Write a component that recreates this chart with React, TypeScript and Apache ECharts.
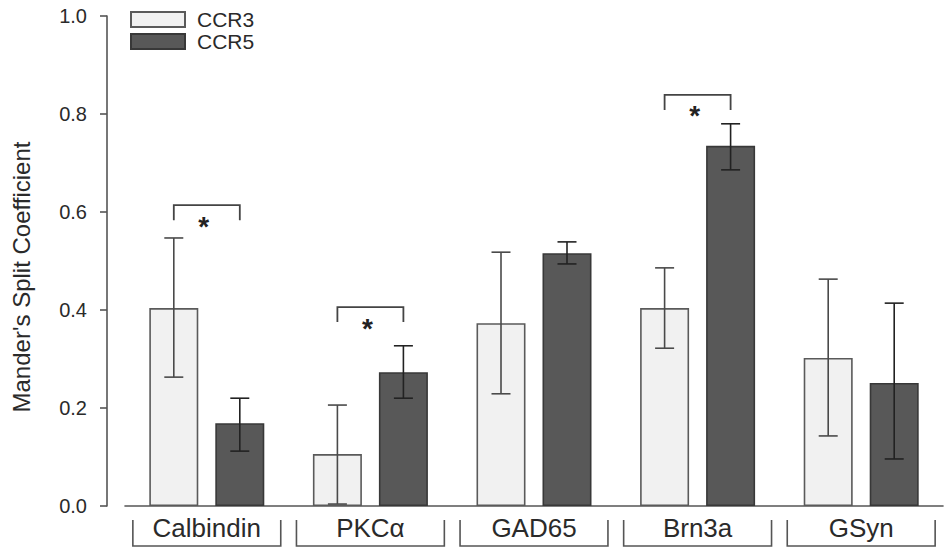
import React, { useEffect, useRef } from "react";
import * as echarts from "echarts";

const categories = ["Calbindin", "PKCα", "GAD65", "Brn3a", "GSyn"];
const seriesNames = ["CCR3", "CCR5"];
const ccr3Mean = [0.404, 0.106, 0.373, 0.404, 0.302];
const ccr3Low = [0.263, 0.004, 0.229, 0.322, 0.143];
const ccr3High = [0.547, 0.206, 0.518, 0.486, 0.463];
const ccr5Mean = [0.169, 0.273, 0.516, 0.735, 0.251];
const ccr5Low = [0.112, 0.22, 0.494, 0.686, 0.096];
const ccr5High = [0.22, 0.327, 0.539, 0.78, 0.414];
const sigCategories = [0, 1, 3];
const sigLevels = [0.614, 0.406, 0.839];
const yTickMin = 0;
const yTickMax = 1;
const yTickStep = 0.2;
const yTitle = "Mander's Split Coefficient";

const BAR_W = 49;
const BAR_GAP = 17;
const OFFSET = (BAR_W + BAR_GAP) / 2;
const FONT = "'Liberation Sans', Arial, Helvetica, sans-serif";

function errRender(offset: number, color: string) {
  return (params: any, api: any) => {
    const idx = api.value(0);
    const lo = api.coord([idx, api.value(1)]);
    const hi = api.coord([idx, api.value(2)]);
    const x = lo[0] + offset;
    const cap = 9.5;
    const style = { stroke: color, lineWidth: 1.6 };
    return {
      type: "group",
      children: [
        { type: "line", shape: { x1: x, y1: lo[1], x2: x, y2: hi[1] }, style },
        { type: "line", shape: { x1: x - cap, y1: hi[1], x2: x + cap, y2: hi[1] }, style },
        { type: "line", shape: { x1: x - cap, y1: lo[1], x2: x + cap, y2: lo[1] }, style },
      ],
    };
  };
}

export default function App() {
  const ref = useRef<HTMLDivElement>(null);
  useEffect(() => {
    document.body.style.margin = "0";
    if (!ref.current) return;
    const chart = echarts.init(ref.current, undefined, { renderer: "svg" });
    const option: any = {
      animation: false,
      backgroundColor: "#ffffff",
      grid: { left: 125, right: 4, top: 16, bottom: 47 },
      legend: {
        orient: "vertical",
        left: 130,
        top: 9,
        padding: 0,
        itemWidth: 54,
        itemHeight: 15,
        itemGap: 1,
        icon: "rect",
        selectedMode: false,
        data: seriesNames,
        textStyle: {
          fontFamily: FONT,
          fontSize: 21,
          color: "#2a2a2a",
          lineHeight: 15,
          padding: [0, 0, 0, 7],
        },
      },
      graphic: [
        {
          type: "text",
          x: 21,
          y: 277,
          rotation: Math.PI / 2,
          style: {
            text: yTitle,
            fontFamily: FONT,
            fontSize: 24,
            fill: "#2a2a2a",
            textAlign: "center",
            textVerticalAlign: "middle",
          },
        },
      ],
      xAxis: {
        type: "category",
        data: categories,
        offset: 7,
        axisLine: { show: true, lineStyle: { color: "#555", width: 1.6 } },
        axisTick: { show: false },
        axisLabel: {
          margin: 2,
          fontFamily: FONT,
          fontSize: 26,
          color: "#2a2a2a",
        },
      },
      yAxis: {
        type: "value",
        min: yTickMin,
        max: yTickMax,
        interval: yTickStep,
        offset: 18,
        splitLine: { show: false },
        axisLine: { show: true, lineStyle: { color: "#555", width: 1.6 } },
        axisTick: { show: true, length: 7, lineStyle: { color: "#555", width: 1.6 } },
        axisLabel: {
          margin: 20,
          fontFamily: FONT,
          fontSize: 20,
          color: "#2a2a2a",
          formatter: (v: number) => v.toFixed(1),
        },
      },
      series: [
        {
          name: seriesNames[0],
          type: "bar",
          barWidth: BAR_W,
          barGap: `${(BAR_GAP / BAR_W) * 100}%`,
          data: ccr3Mean,
          itemStyle: { color: "#f1f1f1", borderColor: "#5a5a5a", borderWidth: 1.6 },
          z: 2,
        },
        {
          name: seriesNames[1],
          type: "bar",
          barWidth: BAR_W,
          data: ccr5Mean,
          itemStyle: { color: "#585858", borderColor: "#383838", borderWidth: 1.6 },
          z: 2,
        },
        {
          type: "custom",
          silent: true,
          clip: false,
          z: 5,
          renderItem: errRender(-OFFSET, "#4a4a4a"),
          encode: { x: 0, y: [1, 2] },
          data: categories.map((_, i) => [i, ccr3Low[i], ccr3High[i]]),
        },
        {
          type: "custom",
          silent: true,
          clip: false,
          z: 5,
          renderItem: errRender(OFFSET, "#222"),
          encode: { x: 0, y: [1, 2] },
          data: categories.map((_, i) => [i, ccr5Low[i], ccr5High[i]]),
        },
        {
          type: "custom",
          silent: true,
          clip: false,
          z: 5,
          encode: { x: 0, y: 1 },
          data: categories.map((_, i) => [i, 0]),
          renderItem: (params: any, api: any) => {
            const p = api.coord([api.value(0), 0]);
            const band = api.size([1, 0])[0];
            const half = band * 0.452;
            return {
              type: "polyline",
              shape: {
                points: [
                  [p[0] - half, p[1] + 14],
                  [p[0] - half, p[1] + 40],
                  [p[0] + half, p[1] + 40],
                  [p[0] + half, p[1] + 14],
                ],
              },
              style: { stroke: "#555", lineWidth: 1.6, fill: "none" },
            };
          },
        },
        {
          type: "custom",
          silent: true,
          clip: false,
          z: 5,
          encode: { x: 0, y: 1 },
          data: sigCategories.map((c, i) => [c, sigLevels[i]]),
          renderItem: (params: any, api: any) => {
            const p = api.coord([api.value(0), api.value(1)]);
            const x1 = p[0] - OFFSET;
            const x2 = p[0] + OFFSET;
            const y = p[1];
            return {
              type: "group",
              children: [
                {
                  type: "polyline",
                  shape: { points: [[x1, y + 15], [x1, y], [x2, y], [x2, y + 15]] },
                  style: { stroke: "#444", lineWidth: 1.8, fill: "none" },
                },
                {
                  type: "text",
                  x: p[0] - 3,
                  y: y + 21,
                  style: {
                    text: "*",
                    fontFamily: FONT,
                    fontSize: 28,
                    fontWeight: "bold",
                    fill: "#222",
                    textAlign: "center",
                    textVerticalAlign: "middle",
                  },
                },
              ],
            };
          },
        },
      ],
    };
    chart.setOption(option);
    return () => chart.dispose();
  }, []);
  return <div ref={ref} style={{ width: 947, height: 553 }} />;
}
